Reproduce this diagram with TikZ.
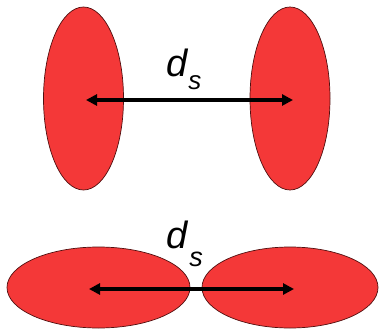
\documentclass[tikz,border=0pt]{standalone}
\usepackage{fontspec}
\setmainfont{Liberation Sans}
\usetikzlibrary{shapes.geometric,arrows.meta}
\definecolor{blobred}{RGB}{244,56,56}
\definecolor{blobedge}{RGB}{80,15,15}
\tikzset{
  blob/.style={ellipse, draw=blobedge, line width=0.7pt, fill=blobred, inner sep=0pt},
  dist/.style={line width=3.2pt, {Triangle[length=11pt,width=11pt]}-{Triangle[length=11pt,width=11pt]}},
  lbl/.style={inner sep=0pt, anchor=base west}
}
\begin{document}
\begin{tikzpicture}[x=1pt,y=-1pt]
\useasboundingbox (0,0) rectangle (379,331);
% top pair
\node[blob, minimum width=80pt, minimum height=183pt] (tl) at (83.5,98.5) {};
\node[blob, minimum width=80pt, minimum height=183pt] (tr) at (290,98.5) {};
\coordinate (ta) at (86,100);
\coordinate (tb) at (293,100);
\draw[dist] (ta) -- (tb);
\node[lbl] (tlab) at (166,77) {\fontsize{38}{38}\selectfont\itshape d\kern1pt\raisebox{-13pt}{\fontsize{26}{26}\selectfont s}};
% bottom pair
\node[blob, minimum width=183pt, minimum height=81pt] (bl) at (98.5,287.5) {};
\node[blob, minimum width=176pt, minimum height=81pt] (br) at (290,287.5) {};
\coordinate (ba) at (89,289);
\coordinate (bb) at (294,289);
\draw[dist] (ba) -- (bb);
\node[lbl] (blab) at (166,248) {\fontsize{38}{38}\selectfont\itshape d\kern2pt\raisebox{-18pt}{\fontsize{27}{27}\selectfont s}};
\end{tikzpicture}
\end{document}
